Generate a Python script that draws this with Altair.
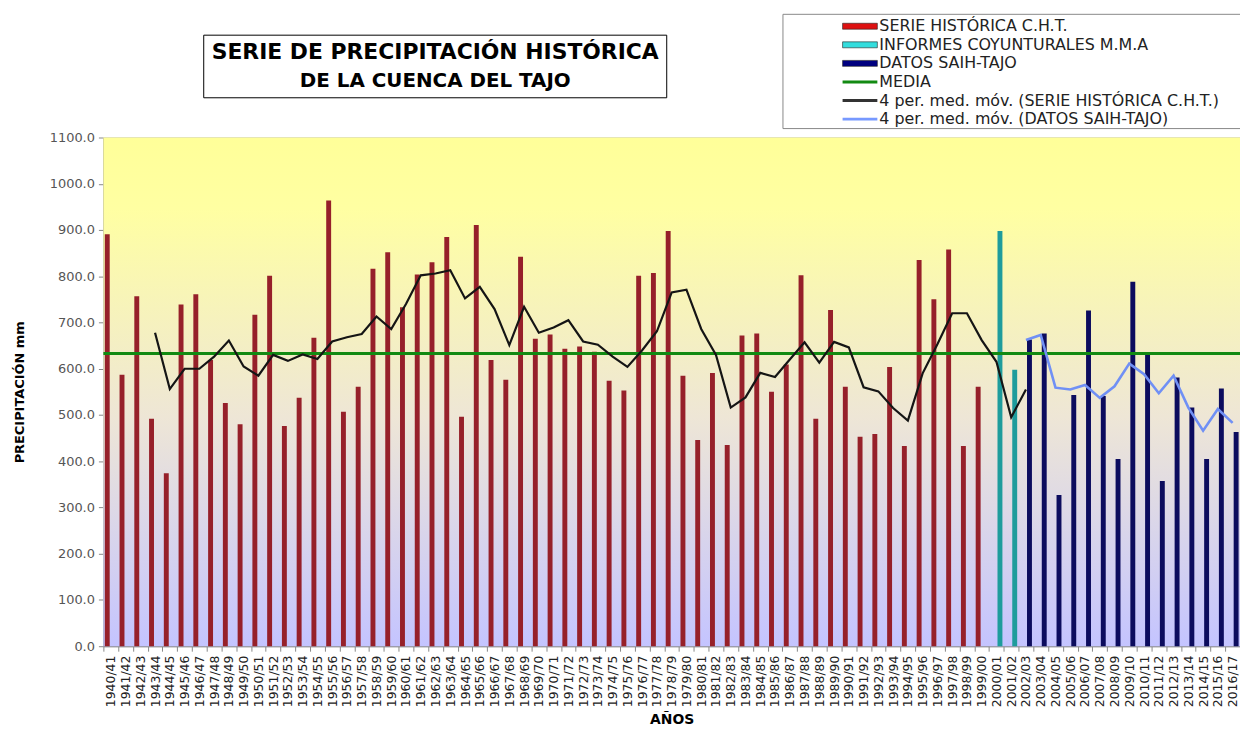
import altair as alt
import pandas as pd

# ---------------- data ----------------
YEARS = [
    "1940/41", "1941/42", "1942/43", "1943/44", "1944/45", "1945/46", "1946/47", "1947/48",
    "1948/49", "1949/50", "1950/51", "1951/52", "1952/53", "1953/54", "1954/55", "1955/56",
    "1956/57", "1957/58", "1958/59", "1959/60", "1960/61", "1961/62", "1962/63", "1963/64",
    "1964/65", "1965/66", "1966/67", "1967/68", "1968/69", "1969/70", "1970/71", "1971/72",
    "1972/73", "1973/74", "1974/75", "1975/76", "1976/77", "1977/78", "1978/79", "1979/80",
    "1980/81", "1981/82", "1982/83", "1983/84", "1984/85", "1985/86", "1986/87", "1987/88",
    "1988/89", "1989/90", "1990/91", "1991/92", "1992/93", "1993/94", "1994/95", "1995/96",
    "1996/97", "1997/98", "1998/99", "1999/00", "2000/01", "2001/02", "2002/03", "2003/04",
    "2004/05", "2005/06", "2006/07", "2007/08", "2008/09", "2009/10", "2010/11", "2011/12",
    "2012/13", "2013/14", "2014/15", "2015/16", "2016/17",
]

# SERIE HISTÓRICA C.H.T. (1940/41 - 1999/00)
CHT = [
    891, 587, 757, 492, 374, 739, 761, 619, 526, 480,
    717, 801, 476, 537, 667, 964, 507, 561, 816, 852,
    733, 804, 830, 885, 496, 911, 619, 576, 842, 665,
    674, 643, 648, 637, 574, 553, 801, 807, 898, 585,
    446, 591, 435, 672, 676, 550, 609, 802, 492, 727,
    561, 453, 459, 604, 433, 835, 750, 858, 433, 561,
]
# INFORMES COYUNTURALES M.M.A (2000/01 - 2001/02)
MMA = [898, 598]
# DATOS SAIH-TAJO (2002/03 - 2016/17)
SAIH = [663, 676, 327, 543, 726, 541, 405, 788, 632, 357, 581, 516, 405, 557, 463]

MEDIA = 633

# 4 per. med. móv. (SERIE HISTÓRICA C.H.T.)  1943/44 - 2002/03
MA_CHT = [
    678, 556, 600, 600, 626, 661, 605, 585, 630, 617,
    631, 621, 659, 668, 675, 713, 686, 740, 802, 806,
    813, 752, 777, 729, 651, 734, 678, 689, 705, 659,
    652, 626, 604, 640, 681, 765, 771, 686, 630, 516,
    538, 591, 582, 620, 657, 613, 658, 646, 560, 551,
    515, 488, 590, 653, 720, 720, 662, 615, 495, 555,
]
# 4 per. med. móv. (DATOS SAIH-TAJO)  2002/03 - 2016/17
MA_SAIH = [662, 673, 559, 555, 565, 537, 562, 611, 588, 547, 585, 516, 466, 513, 483]

SERIES = ["SERIE HISTÓRICA C.H.T.", "INFORMES COYUNTURALES M.M.A", "DATOS SAIH-TAJO"]
BAR_COLORS = ["#96202A", "#1E9C9C", "#0C0C5E"]

LEGEND_LABELS = [
    "SERIE HISTÓRICA C.H.T.",
    "INFORMES COYUNTURALES M.M.A",
    "DATOS SAIH-TAJO",
    "MEDIA",
    "4 per. med. móv. (SERIE HISTÓRICA C.H.T.)",
    "4 per. med. móv. (DATOS SAIH-TAJO)",
]
LEGEND_COLORS = ["#DD1111", "#33DDDD", "#000080", "#128A12", "#333333", "#7799FF"]

TITLE_LINES = ["SERIE DE PRECIPITACIÓN HISTÓRICA", "DE LA CUENCA DEL TAJO"]

FONT = "DejaVu Sans"
W, H = 1144, 512

# ---------------- tables ----------------
bars = pd.DataFrame({
    "year": YEARS[: len(CHT) + len(MMA) + len(SAIH)],
    "value": CHT + MMA + SAIH,
    "serie": [SERIES[0]] * len(CHT) + [SERIES[1]] * len(MMA) + [SERIES[2]] * len(SAIH),
    "slot": ["a"] * len(CHT) + ["b"] * (len(MMA) + len(SAIH)),
})
ma1 = pd.DataFrame({"year": YEARS[3:3 + len(MA_CHT)], "value": MA_CHT})
ma2 = pd.DataFrame({"year": YEARS[62:62 + len(MA_SAIH)], "value": MA_SAIH})
media = pd.DataFrame({"value": [MEDIA]})
one = pd.DataFrame({"k": [0]})

xscale = alt.Scale(domain=YEARS, paddingInner=0, paddingOuter=0)
yscale = alt.Scale(domain=[0, 1100], nice=False, zero=True)

x_axis = alt.Axis(
    labelAngle=-90, labelOverlap=False, labelFont=FONT, labelFontSize=12.5,
    labelColor="#222", tickBand="extent", tickColor="#888", domainColor="#888",
    titleFont=FONT, titleFontSize=14, titleFontWeight="bold", titleColor="#000",
    titlePadding=6, labelPadding=4, tickSize=5, grid=False,
)
y_axis = alt.Axis(
    values=list(range(0, 1101, 100)), format=".1f", grid=False,
    labelFont=FONT, labelFontSize=13, labelColor="#555", tickColor="#888",
    domainColor="#888", tickSize=5, labelPadding=4,
    titleFont=FONT, titleFontSize=13, titleFontWeight="bold", titleColor="#000",
    titlePadding=23,
)
X_ENC = alt.X("year:N", scale=xscale, axis=x_axis, title="AÑOS", sort=YEARS)
Y_ENC = alt.Y("value:Q", scale=yscale, axis=y_axis, title="PRECIPITACIÓN mm")

bg = alt.Chart(one).mark_rect(
    fill=alt.Gradient(
        gradient="linear",
        stops=[
            alt.GradientStop(color="#FFFF99", offset=0),
            alt.GradientStop(color="#FFFFA2", offset=0.14),
            alt.GradientStop(color="#EEE6D6", offset=0.55),
            alt.GradientStop(color="#C4C4FF", offset=1),
        ],
        x1=0, x2=0, y1=0, y2=1,
    )
).encode(x=alt.value(0), x2=alt.value("width"), y=alt.value(0), y2=alt.value("height"))

bar_chart = alt.Chart(bars).mark_bar().encode(
    x=X_ENC,
    xOffset=alt.XOffset("slot:N", scale=alt.Scale(domain=["a", "b"], paddingInner=0.3, paddingOuter=0.2)),
    y=Y_ENC,
    color=alt.Color("serie:N", scale=alt.Scale(domain=SERIES, range=BAR_COLORS), legend=None),
)

media_rule = alt.Chart(media).mark_rule(color="#128A12", strokeWidth=3).encode(y=Y_ENC)

line1 = alt.Chart(ma1).mark_line(color="#151515", strokeWidth=2.2).encode(x=X_ENC, y=Y_ENC)
line2 = alt.Chart(ma2).mark_line(color="#7090F5", strokeWidth=2.6).encode(x=X_ENC, y=Y_ENC)

# title box
title_box = alt.Chart(one).mark_rect(fill="white", stroke="#000", strokeWidth=1).encode(
    x=alt.value(101), x2=alt.value(567), y=alt.value(-103), y2=alt.value(-40)
)
title1 = alt.Chart(one).mark_text(
    text=TITLE_LINES[0], font=FONT, fontSize=22, fontWeight="bold", color="#000",
    align="center", baseline="middle",
).encode(x=alt.value(334), y=alt.value(-86))
title2 = alt.Chart(one).mark_text(
    text=TITLE_LINES[1], font=FONT, fontSize=20, fontWeight="bold", color="#000",
    align="center", baseline="middle",
).encode(x=alt.value(334), y=alt.value(-57))

# legend
legend_box = alt.Chart(one).mark_rect(fill="white", stroke="#888", strokeWidth=1).encode(
    x=alt.value(684), x2=alt.value(1160), y=alt.value(-124), y2=alt.value(-9)
)
legend_layers = [legend_box]
for i, (lab, col) in enumerate(zip(LEGEND_LABELS, LEGEND_COLORS)):
    yc = -112 + i * 18.7
    if i < 3:
        sw = alt.Chart(one).mark_rect(fill=col, stroke="#222", strokeWidth=0.6).encode(
            x=alt.value(744), x2=alt.value(779), y=alt.value(yc - 3), y2=alt.value(yc + 3)
        )
    else:
        sw = alt.Chart(one).mark_rule(color=col, strokeWidth=3).encode(
            x=alt.value(744), x2=alt.value(779), y=alt.value(yc)
        )
    tx = alt.Chart(one).mark_text(
        text=lab, font=FONT, fontSize=16, color="#222", align="left", baseline="middle"
    ).encode(x=alt.value(781), y=alt.value(yc))
    legend_layers += [sw, tx]

chart = alt.layer(
    bg, bar_chart, media_rule, line1, line2, title_box, title1, title2, *legend_layers
).properties(
    width=W, height=H,
    autosize=alt.AutoSizeParams(type="none"),
    padding={"left": 96, "top": 128, "right": 0, "bottom": 85},
    background="white",
).configure_view(stroke="#999", strokeWidth=1)

chart.save("out.html", embed_options={"renderer": "svg", "actions": False})
